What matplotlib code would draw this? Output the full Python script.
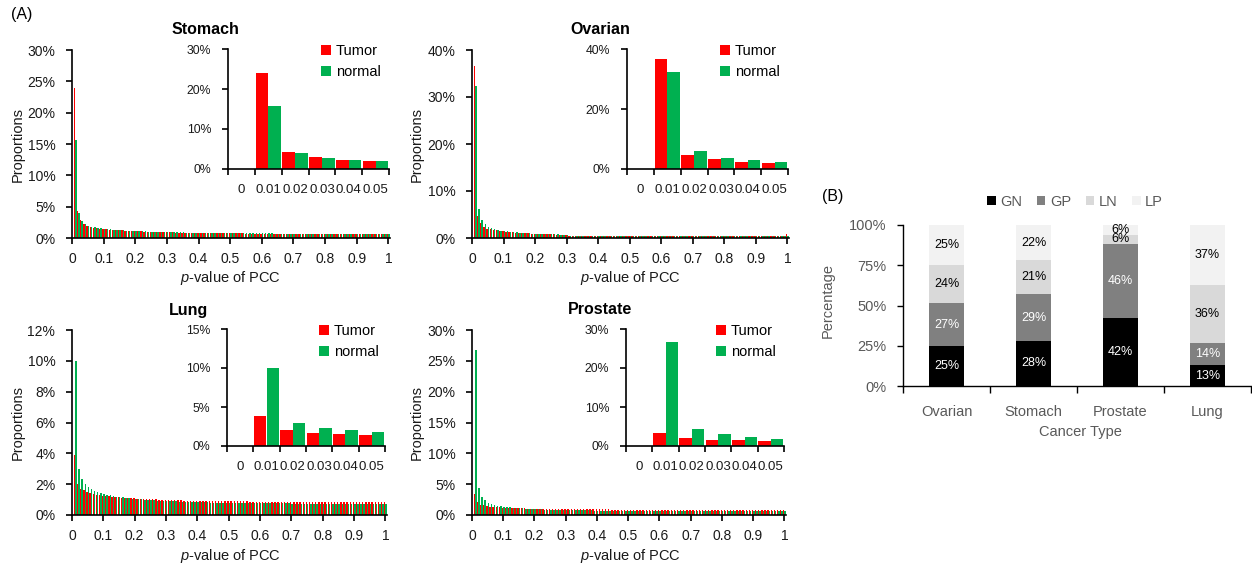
import numpy as np
import matplotlib
matplotlib.use('Agg')
import matplotlib.pyplot as plt
from matplotlib.ticker import FuncFormatter, FixedLocator

plt.rcParams['font.family'] = ['Liberation Sans', 'DejaVu Sans']
plt.rcParams['mathtext.fontset'] = 'custom'
plt.rcParams['mathtext.it'] = 'Liberation Sans:italic'
plt.rcParams['mathtext.rm'] = 'Liberation Sans'

# ---------------- DATA ----------------
# p-value bins 0, 0.01, ..., 1.00 (101 categories); proportions in %
stomach_tumor = [0,
    23.9, 4.3, 2.9, 2.3, 1.9, 1.78, 1.67, 1.58, 1.51, 1.45,
    1.40, 1.35, 1.31, 1.27, 1.23, 1.20, 1.17, 1.14, 1.11, 1.08,
    1.06, 1.04, 1.02, 1.00, 0.98, 0.96, 0.95, 0.93, 0.92, 0.90,
    0.89, 0.88, 0.87, 0.86, 0.85, 0.84, 0.83, 0.82, 0.81, 0.80,
    0.79, 0.79, 0.78, 0.77, 0.77, 0.76, 0.75, 0.75, 0.74, 0.74,
    0.73, 0.73, 0.72, 0.72, 0.71, 0.71, 0.70, 0.70, 0.70, 0.69,
    0.69, 0.68, 0.68, 0.68, 0.67, 0.67, 0.67, 0.66, 0.66, 0.66,
    0.65, 0.65, 0.65, 0.65, 0.64, 0.64, 0.64, 0.63, 0.63, 0.63,
    0.63, 0.62, 0.62, 0.62, 0.62, 0.61, 0.61, 0.61, 0.61, 0.61,
    0.60, 0.60, 0.60, 0.60, 0.60, 0.59, 0.59, 0.59, 0.59, 0.59]
stomach_normal = [0,
    15.7, 4.0, 2.7, 2.3, 1.9, 1.80, 1.70, 1.61, 1.54, 1.48,
    1.42, 1.37, 1.33, 1.29, 1.25, 1.22, 1.19, 1.16, 1.13, 1.11,
    1.09, 1.07, 1.05, 1.03, 1.01, 0.99, 0.98, 0.96, 0.95, 0.93,
    0.92, 0.91, 0.90, 0.89, 0.88, 0.87, 0.86, 0.85, 0.84, 0.83,
    0.83, 0.82, 0.81, 0.81, 0.80, 0.79, 0.79, 0.78, 0.78, 0.77,
    0.77, 0.76, 0.76, 0.75, 0.75, 0.74, 0.74, 0.74, 0.73, 0.73,
    0.72, 0.72, 0.72, 0.71, 0.71, 0.71, 0.70, 0.70, 0.70, 0.69,
    0.69, 0.69, 0.69, 0.68, 0.68, 0.68, 0.68, 0.67, 0.67, 0.67,
    0.67, 0.66, 0.66, 0.66, 0.66, 0.66, 0.65, 0.65, 0.65, 0.65,
    0.65, 0.64, 0.64, 0.64, 0.64, 0.64, 0.64, 0.63, 0.63, 0.63]
ovarian_tumor = [0,
    36.6, 4.7, 3.2, 2.3, 2.0, 1.85, 1.72, 1.60, 1.50, 1.42,
    1.34, 1.27, 1.21, 1.15, 1.10, 1.05, 1.01, 0.97, 0.94, 0.91,
    0.88, 0.85, 0.82, 0.80, 0.78, 0.76, 0.74, 0.72, 0.70, 0.69,
    0.52, 0.51, 0.51, 0.50, 0.50, 0.50, 0.49, 0.49, 0.49, 0.48,
    0.48, 0.48, 0.47, 0.47, 0.47, 0.47, 0.46, 0.46, 0.46, 0.46,
    0.45, 0.45, 0.45, 0.45, 0.44, 0.44, 0.44, 0.44, 0.44, 0.43,
    0.43, 0.43, 0.43, 0.43, 0.43, 0.37, 0.37, 0.37, 0.37, 0.36,
    0.36, 0.36, 0.36, 0.36, 0.36, 0.36, 0.36, 0.35, 0.35, 0.35,
    0.35, 0.35, 0.35, 0.35, 0.35, 0.35, 0.35, 0.35, 0.35, 0.35,
    0.35, 0.35, 0.35, 0.35, 0.35, 0.35, 0.35, 0.35, 0.35, 0.75]
ovarian_normal = [0,
    32.3, 6.1, 3.8, 2.9, 2.3, 2.05, 1.85, 1.70, 1.58, 1.48,
    1.39, 1.31, 1.24, 1.18, 1.12, 1.07, 1.03, 0.99, 0.95, 0.92,
    0.89, 0.86, 0.83, 0.81, 0.79, 0.77, 0.75, 0.73, 0.71, 0.70,
    0.53, 0.52, 0.52, 0.51, 0.51, 0.51, 0.50, 0.50, 0.50, 0.49,
    0.49, 0.49, 0.48, 0.48, 0.48, 0.48, 0.47, 0.47, 0.47, 0.47,
    0.46, 0.46, 0.46, 0.46, 0.45, 0.45, 0.45, 0.45, 0.45, 0.44,
    0.44, 0.44, 0.44, 0.44, 0.44, 0.38, 0.38, 0.38, 0.38, 0.37,
    0.37, 0.37, 0.37, 0.37, 0.37, 0.37, 0.37, 0.36, 0.36, 0.36,
    0.36, 0.36, 0.36, 0.36, 0.36, 0.36, 0.36, 0.36, 0.36, 0.36,
    0.36, 0.36, 0.36, 0.36, 0.36, 0.36, 0.36, 0.36, 0.36, 0.40]
lung_tumor = [0,
    3.90, 2.02, 1.68, 1.59, 1.46, 1.40, 1.36, 1.32, 1.29, 1.26,
    1.23, 1.21, 1.19, 1.17, 1.15, 1.13, 1.12, 1.10, 1.09, 1.08,
    1.07, 1.06, 1.05, 1.04, 1.03, 1.02, 1.01, 1.00, 0.99, 0.98,
    0.97, 0.97, 0.96, 0.95, 0.95, 0.94, 0.94, 0.93, 0.93, 0.92,
    0.92, 0.91, 0.91, 0.91, 0.90, 0.90, 0.90, 0.89, 0.89, 0.89,
    0.89, 0.88, 0.88, 0.88, 0.88, 0.88, 0.87, 0.87, 0.87, 0.87,
    0.87, 0.87, 0.87, 0.86, 0.86, 0.86, 0.86, 0.86, 0.86, 0.86,
    0.86, 0.86, 0.86, 0.85, 0.85, 0.85, 0.85, 0.85, 0.85, 0.85,
    0.85, 0.85, 0.85, 0.85, 0.85, 0.85, 0.85, 0.85, 0.85, 0.85,
    0.85, 0.85, 0.85, 0.85, 0.85, 0.85, 0.85, 0.85, 0.85, 0.85]
lung_normal = [0,
    10.0, 3.00, 2.32, 2.02, 1.80, 1.68, 1.58, 1.50, 1.43, 1.37,
    1.32, 1.28, 1.24, 1.20, 1.17, 1.14, 1.11, 1.09, 1.07, 1.05,
    1.03, 1.01, 0.99, 0.98, 0.96, 0.95, 0.94, 0.93, 0.92, 0.91,
    0.90, 0.89, 0.88, 0.87, 0.86, 0.86, 0.85, 0.84, 0.84, 0.83,
    0.83, 0.82, 0.82, 0.81, 0.81, 0.80, 0.80, 0.80, 0.79, 0.79,
    0.79, 0.78, 0.78, 0.78, 0.77, 0.77, 0.77, 0.77, 0.76, 0.76,
    0.76, 0.76, 0.76, 0.75, 0.75, 0.75, 0.75, 0.75, 0.75, 0.74,
    0.74, 0.74, 0.74, 0.74, 0.74, 0.74, 0.74, 0.74, 0.74, 0.74,
    0.74, 0.73, 0.73, 0.73, 0.73, 0.73, 0.73, 0.73, 0.73, 0.73,
    0.73, 0.73, 0.73, 0.73, 0.73, 0.73, 0.73, 0.73, 0.73, 0.73]
prostate_tumor = [0,
    3.46, 2.16, 1.64, 1.56, 1.38, 1.34, 1.30, 1.26, 1.23, 1.20,
    1.18, 1.16, 1.14, 1.12, 1.10, 1.08, 1.07, 1.05, 1.04, 1.03,
    1.02, 1.01, 1.00, 0.99, 0.98, 0.97, 0.97, 0.96, 0.95, 0.95,
    0.94, 0.94, 0.93, 0.93, 0.92, 0.92, 0.91, 0.91, 0.91, 0.90,
    0.90, 0.90, 0.90, 0.90, 0.89, 0.89, 0.89, 0.89, 0.89, 0.89,
    0.89, 0.88, 0.88, 0.88, 0.88, 0.88, 0.88, 0.88, 0.88, 0.88,
    0.88, 0.88, 0.87, 0.87, 0.87, 0.87, 0.87, 0.87, 0.87, 0.87,
    0.87, 0.87, 0.87, 0.87, 0.87, 0.86, 0.86, 0.86, 0.86, 0.86,
    0.86, 0.86, 0.86, 0.86, 0.86, 0.86, 0.86, 0.86, 0.86, 0.86,
    0.86, 0.86, 0.86, 0.86, 0.86, 0.86, 0.86, 0.86, 0.86, 0.86]
prostate_normal = [0,
    26.7, 4.4, 3.0, 2.4, 1.9, 1.75, 1.62, 1.52, 1.44, 1.37,
    1.30, 1.24, 1.19, 1.15, 1.11, 1.07, 1.04, 1.01, 0.98, 0.95,
    0.93, 0.91, 0.89, 0.87, 0.85, 0.84, 0.82, 0.81, 0.80, 0.79,
    0.78, 0.77, 0.76, 0.75, 0.75, 0.74, 0.73, 0.73, 0.72, 0.72,
    0.71, 0.71, 0.70, 0.70, 0.70, 0.69, 0.69, 0.69, 0.68, 0.68,
    0.68, 0.68, 0.67, 0.67, 0.67, 0.67, 0.66, 0.66, 0.66, 0.66,
    0.66, 0.65, 0.65, 0.65, 0.65, 0.65, 0.65, 0.65, 0.65, 0.65,
    0.65, 0.65, 0.65, 0.64, 0.64, 0.64, 0.64, 0.64, 0.64, 0.64,
    0.64, 0.64, 0.64, 0.64, 0.64, 0.64, 0.64, 0.64, 0.64, 0.64,
    0.64, 0.64, 0.64, 0.64, 0.64, 0.64, 0.64, 0.64, 0.64, 0.64]

main_xtick_values = [0, 0.1, 0.2, 0.3, 0.4, 0.5, 0.6, 0.7, 0.8, 0.9, 1.0]
main_xtick_labels = ['0', '0.1', '0.2', '0.3', '0.4', '0.5', '0.6', '0.7', '0.8', '0.9', '1']
inset_labels = ['0', '0.01', '0.02', '0.03', '0.04', '0.05']

cancer_types = ['Ovarian', 'Stomach', 'Prostate', 'Lung']
GN = [25, 28, 42, 13]
GP = [27, 29, 46, 14]
LN = [24, 21, 6, 36]
LP = [25, 22, 6, 37]

# ---------------- STYLE ----------------
RED = '#ff0000'
GREEN = '#00b050'
TXT = '#1a1a1a'
W, H = 1252, 567
fig = plt.figure(figsize=(W / 100, H / 100), dpi=100)


def rect(x0, y_top, x1, y_bot):
    return [x0 / W, 1 - y_bot / H, (x1 - x0) / W, (y_bot - y_top) / H]


pct = FuncFormatter(lambda v, p: f'{v:.0f}%')


def style_axes(ax, lw=1.2):
    for s in ['top', 'right']:
        ax.spines[s].set_visible(False)
    for s in ['left', 'bottom']:
        ax.spines[s].set_linewidth(lw)
        ax.spines[s].set_color('black')
    ax.set_facecolor('none')


panels = [
    dict(name='Stomach', t=stomach_tumor, n=stomach_normal, ymax=30, ystep=5, iymax=30, istep=10,
         main=(72, 50, 390, 238), inset=(228, 49, 389, 169), title=(205, 29),
         leg=(321, 44), xl=(230, 278), yl=(18, 145)),
    dict(name='Ovarian', t=ovarian_tumor, n=ovarian_normal, ymax=40, ystep=10, iymax=40, istep=20,
         main=(472, 50, 789, 238), inset=(627, 49, 788, 169), title=(600, 29),
         leg=(720, 44), xl=(630, 278), yl=(417, 145)),
    dict(name='Lung', t=lung_tumor, n=lung_normal, ymax=12, ystep=2, iymax=15, istep=5,
         main=(72, 330, 387, 515), inset=(227, 329, 385, 446), title=(189, 310),
         leg=(319, 324), xl=(230, 556), yl=(18, 422)),
    dict(name='Prostate', t=prostate_tumor, n=prostate_normal, ymax=30, ystep=5, iymax=30, istep=10,
         main=(472, 330, 786, 515), inset=(626, 329, 784, 446), title=(600, 310),
         leg=(716, 324), xl=(630, 556), yl=(417, 422)),
]

for P in panels:
    t = np.array(P['t'])
    n = np.array(P['n'])
    x = np.arange(len(t)) / 100.0
    ax = fig.add_axes(rect(*P['main']))
    w = 0.0045
    ax.bar(x - w / 2, t, width=w, color=RED, linewidth=0)
    ax.bar(x + w / 2, n, width=w, color=GREEN, linewidth=0)
    ax.set_xlim(0, 1.005)
    ax.set_ylim(0, P['ymax'])
    ax.set_yticks(np.arange(0, P['ymax'] + 0.001, P['ystep']))
    ax.yaxis.set_major_formatter(pct)
    ax.set_xticks(main_xtick_values)
    ax.set_xticklabels(main_xtick_labels)
    style_axes(ax)
    ax.tick_params(axis='both', direction='out', length=4, width=1.2, labelsize=10, colors='black',
                   labelcolor=TXT)
    ax.tick_params(axis='y', pad=8)
    ax.tick_params(axis='x', pad=6)

    # inset
    ai = fig.add_axes(rect(*P['inset']))
    k = np.arange(6)
    iw = 0.47
    ai.bar(k - iw / 2, t[:6], width=iw, color=RED, linewidth=0, label='Tumor')
    ai.bar(k + iw / 2, n[:6], width=iw, color=GREEN, linewidth=0, label='normal')
    ai.set_xlim(-0.5, 5.5)
    ai.set_ylim(0, P['iymax'])
    ai.set_yticks(np.arange(0, P['iymax'] + 0.001, P['istep']))
    ai.yaxis.set_major_formatter(pct)
    ai.set_xticks(k)
    ai.set_xticklabels(inset_labels)
    ai.xaxis.set_minor_locator(FixedLocator(np.arange(-0.5, 6, 1.0)))
    style_axes(ai)
    ai.tick_params(axis='x', which='major', length=0, pad=11, labelsize=9.5, labelcolor=TXT)
    ai.tick_params(axis='x', which='minor', direction='out', length=4, width=1.2)
    ai.tick_params(axis='y', direction='out', length=4, width=1.2, labelsize=8.8, pad=8,
                   labelcolor=TXT)

    ai.legend(loc='upper left', bbox_to_anchor=(P['leg'][0] / W, 1 - P['leg'][1] / H),
              bbox_transform=fig.transFigure, frameon=False, fontsize=10.5,
              handlelength=0.7, handleheight=0.7, handletextpad=0.3, labelspacing=0.5,
              borderaxespad=0, borderpad=0)

    fig.text(P['title'][0] / W, 1 - P['title'][1] / H, P['name'], ha='center', va='center',
             fontsize=11.5, fontweight='bold', color='black')
    fig.text(P['xl'][0] / W, 1 - P['xl'][1] / H, r'$\it{p}$-value of PCC', ha='center',
             va='center', fontsize=10.5, color=TXT)
    fig.text(P['yl'][0] / W, 1 - P['yl'][1] / H, 'Proportions', ha='center', va='center',
             rotation=90, fontsize=10.5, color=TXT)

fig.text(11 / W, 1 - 15 / H, '(A)', ha='left', va='center', fontsize=11.5, color='black')
fig.text(822 / W, 1 - 197 / H, '(B)', ha='left', va='center', fontsize=11.5, color='black')

# ---------------- PANEL B ----------------
GRAY_T = '#595959'
axb = fig.add_axes(rect(903, 225, 1251, 386))
series = [('GN', GN, '#000000', 'white'), ('GP', GP, '#808080', 'white'),
          ('LN', LN, '#d9d9d9', 'black'), ('LP', LP, '#f2f2f2', 'black')]
totals = np.array(GN) + np.array(GP) + np.array(LN) + np.array(LP)
xb = np.arange(len(cancer_types))
bottom = np.zeros(len(cancer_types))
for name, vals, col, tcol in series:
    v = np.array(vals) / totals * 100
    axb.bar(xb, v, width=0.4, bottom=bottom, color=col, linewidth=0, label=name)
    for i in range(len(xb)):
        axb.text(xb[i], bottom[i] + v[i] / 2, f'{vals[i]}%', ha='center', va='center',
                 fontsize=9, color=tcol)
    bottom = bottom + v
axb.set_xlim(-0.5, 3.5)
axb.set_ylim(0, 100)
axb.set_yticks([0, 25, 50, 75, 100])
axb.yaxis.set_major_formatter(pct)
axb.set_xticks(xb)
axb.set_xticklabels(cancer_types)
axb.xaxis.set_minor_locator(FixedLocator(np.arange(-0.5, 4, 1.0)))
style_axes(axb, lw=1.0)
axb.tick_params(axis='x', which='major', length=0, pad=14, labelsize=10.5, labelcolor=GRAY_T)
axb.tick_params(axis='x', which='minor', direction='out', length=5, width=1.0)
axb.tick_params(axis='y', direction='out', length=4, width=1.0, labelsize=10.5, pad=8,
                labelcolor=GRAY_T)
fig.text(828 / W, 1 - 300 / H, 'Percentage', ha='center', va='center', rotation=90,
         fontsize=10.5, color=GRAY_T)
fig.text(1080 / W, 1 - 432 / H, 'Cancer Type', ha='center', va='center', fontsize=10.5,
         color=GRAY_T)
axb.legend(loc='center', bbox_to_anchor=(1075 / W, 1 - 202 / H), bbox_transform=fig.transFigure,
           ncol=4, frameon=False, fontsize=10.5, handlelength=0.6, handleheight=0.6,
           handletextpad=0.3, columnspacing=1.0, labelcolor=GRAY_T, borderpad=0)

fig.savefig('out.png', dpi=100)
